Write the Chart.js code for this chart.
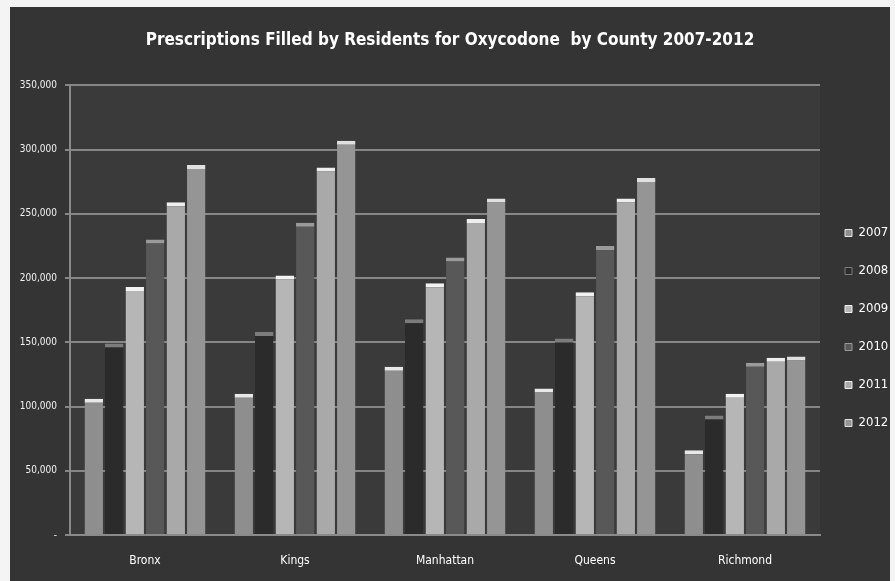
<!DOCTYPE html>
<html>
<head>
<meta charset="utf-8">
<script src="https://cdn.jsdelivr.net/npm/chart.js@4/dist/chart.umd.min.js"></script>
<style>
  html, body { margin: 0; padding: 0; background: #f4f4f4; }
  #frame {
    position: absolute; left: 10px; top: 7px;
    width: 880px; height: 574px;
    background: #343434;
  }
  canvas { display: block; }
</style>
</head>
<body>
<div id="frame"><canvas id="chart" width="880" height="574"></canvas></div>
<script>
// Counties along the x axis
const counties = ['Bronx', 'Kings', 'Manhattan', 'Queens', 'Richmond'];
// One series per year
const years = ['2007', '2008', '2009', '2010', '2011', '2012'];
// Prescriptions filled, per county
const filled2007 = [106000, 110000, 131000, 114000, 66000];
const filled2008 = [149000, 158000, 168000, 153000, 93000];
const filled2009 = [193000, 202000, 196000, 189000, 110000];
const filled2010 = [230000, 243000, 216000, 225000, 134000];
const filled2011 = [259000, 286000, 246000, 262000, 138000];
const filled2012 = [288000, 307000, 262000, 278000, 139000];
// Value axis ticks
const yTicks = [0, 50000, 100000, 150000, 200000, 250000, 300000, 350000];

const seriesValues = [filled2007, filled2008, filled2009, filled2010, filled2011, filled2012];
const fills = ['#8e8e8e', '#2b2b2b', '#b6b6b6', '#585858', '#a9a9a9', '#959595'];
const caps  = ['#e8e8e8', '#7c7c7c', '#f2f2f2', '#9a9a9a', '#eeeeee', '#e0e0e0'];

const COND = '"DejaVu Sans Condensed", "DejaVu Sans", sans-serif';

const datasets = years.map((y, i) => ({
  label: y,
  data: seriesValues[i],
  backgroundColor: fills[i],
  borderColor: caps[i],
  borderWidth: { top: 4, left: 0, right: 0, bottom: 0 },
  borderSkipped: 'bottom',
  categoryPercentage: 0.82,
  barPercentage: 0.9
}));

// Plot-area fill behind the bars
const wallPlugin = {
  id: 'wall',
  beforeDraw(chart) {
    const { ctx, chartArea: a } = chart;
    ctx.save();
    ctx.fillStyle = '#3a3a3a';
    ctx.fillRect(a.left, a.top, a.right - a.left, a.bottom - a.top);
    ctx.restore();
  }
};

const fmt = v => v === 0 ? '-' : v.toLocaleString('en-US');

new Chart(document.getElementById('chart'), {
  type: 'bar',
  data: { labels: counties, datasets },
  plugins: [wallPlugin],
  options: {
    responsive: false,
    animation: false,
    layout: { padding: { left: 0, right: 0, top: 0, bottom: 0 } },
    plugins: {
      title: {
        display: true,
        text: 'Prescriptions Filled by Residents for Oxycodone  by County 2007-2012',
        color: '#ffffff',
        font: { family: COND, size: 17, weight: 'bold' },
        padding: { top: 23, bottom: 35 }
      },
      legend: {
        position: 'right',
        maxWidth: 70,
        title: {
          display: true,
          text: ' ',
          font: { size: 10 },
          padding: 28
        },
        labels: {
          color: '#ffffff',
          font: { family: COND, size: 13 },
          usePointStyle: true,
          pointStyle: 'rect',
          boxWidth: 7,
          boxHeight: 7,
          padding: 25
        }
      },
      tooltip: { enabled: false }
    },
    scales: {
      x: {
        afterFit(scale) { scale.height = 46; },
        grid: { display: false },
        border: { display: true, color: '#8a8a8a', width: 2 },
        ticks: {
          color: '#ffffff',
          font: { family: COND, size: 12 },
          padding: 11
        }
      },
      y: {
        min: 0,
        max: 350000,
        afterBuildTicks(scale) { scale.ticks = yTicks.map(v => ({ value: v })); },
        afterFit(scale) { scale.width = 60; },
        grid: { color: '#868686', lineWidth: 2, tickLength: 5 },
        border: { display: true, color: '#8a8a8a', width: 2 },
        ticks: {
          color: '#f2f2f2',
          font: { family: COND, size: 10 },
          padding: 8,
          callback: v => fmt(v)
        }
      }
    }
  }
});
</script>
</body>
</html>
